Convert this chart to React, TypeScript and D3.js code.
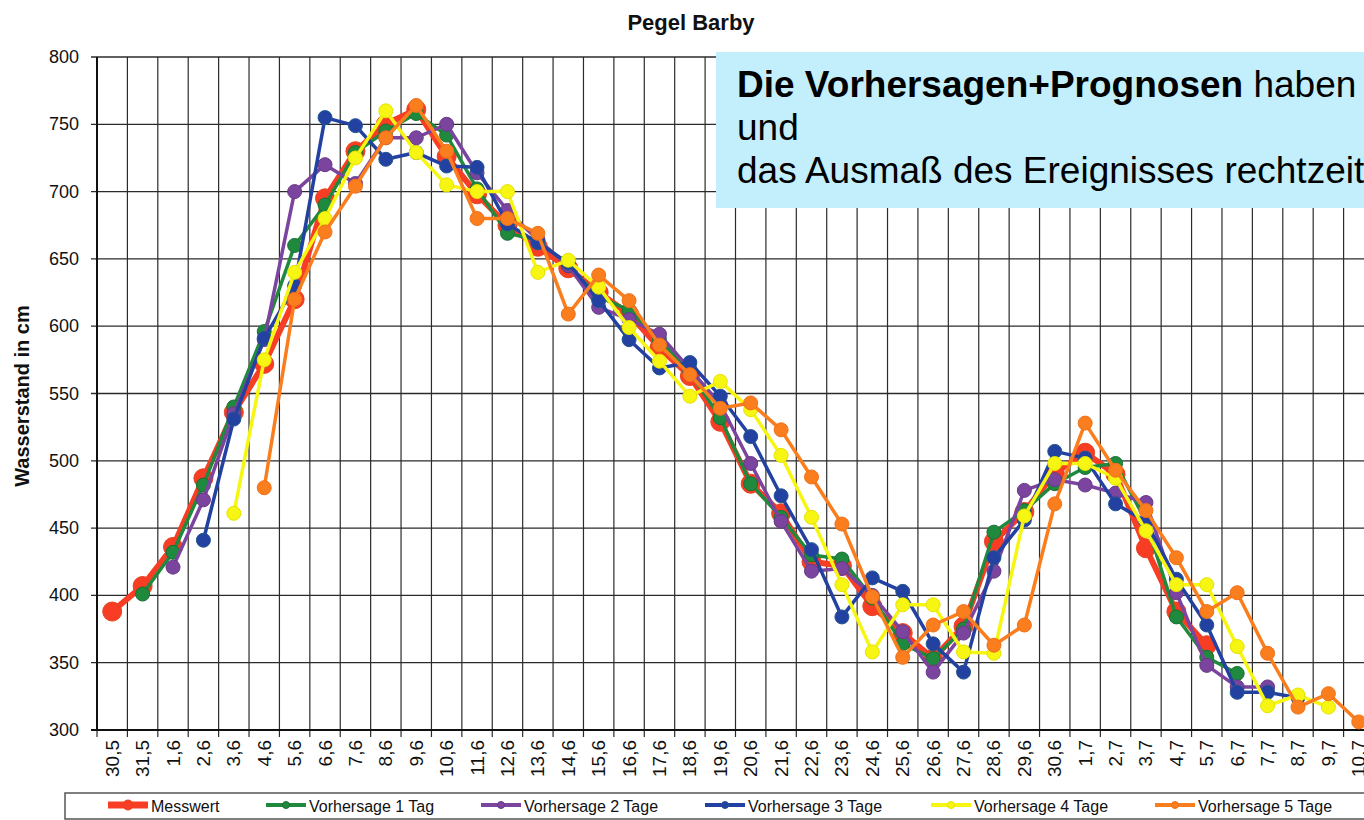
import { useMemo } from 'react';
import * as d3 from 'd3';

const WIDTH = 1364;
const HEIGHT = 820;
const PLOT = { left: 97, top: 57, bottom: 730, right: 1374 };
const FONT = '"Liberation Sans", Arial, Helvetica, sans-serif';

const categories = [
  '30,5', '31,5', '1,6', '2,6', '3,6', '4,6', '5,6', '6,6', '7,6', '8,6',
  '9,6', '10,6', '11,6', '12,6', '13,6', '14,6', '15,6', '16,6', '17,6', '18,6',
  '19,6', '20,6', '21,6', '22,6', '23,6', '24,6', '25,6', '26,6', '27,6', '28,6',
  '29,6', '30,6', '1,7', '2,7', '3,7', '4,7', '5,7', '6,7', '7,7', '8,7',
  '9,7', '10,7',
];

const yTicks = [300, 350, 400, 450, 500, 550, 600, 650, 700, 750, 800];

// 42 values per series, null where the series has no point
const messwert = [
  388, 407, 436, 487, 536, 572, 620, 695, 730, 750,
  761, 726, 698, 675, 659, 643, 625, 609, 584, 563,
  529, 483, 461, 425, 422, 392, 372, 353, 377, 440,
  462, 491, 506, 490, 435, 388, 363, null, null, null,
  null, null,
];
const vorhersage1 = [
  null, 401, 432, 482, 540, 596, 660, 690, 729, 745,
  758, 742, 702, 669, 664, 645, 622, 612, 590, 566,
  532, 483, 458, 430, 427, 398, 364, 353, 375, 447,
  463, 483, 495, 498, 455, 384, 354, 342, null, null,
  null, null,
];
const vorhersage2 = [
  null, null, 421, 471, 535, 590, 700, 720, 706, 740,
  740, 750, 714, 686, 664, 645, 614, 605, 594, 568,
  542, 498, 455, 418, 420, 400, 373, 343, 372, 418,
  478, 486, 482, 476, 469, 402, 348, 332, 332, null,
  null, null,
];
const vorhersage3 = [
  null, null, null, 441, 531, 591, 630, 755, 749, 724,
  729, 719, 718, 676, 662, 647, 619, 590, 569, 573,
  548, 518, 474, 434, 384, 413, 403, 364, 343, 428,
  456, 507, 502, 468, 455, 412, 378, 328, 328, 324,
  null, null,
];
const vorhersage4 = [
  null, null, null, null, 461, 575, 640, 680, 725, 760,
  729, 705, 700, 700, 640, 649, 629, 599, 574, 548,
  559, 538, 504, 458, 408, 358, 393, 393, 358, 357,
  459, 498, 498, 487, 448, 408, 408, 362, 318, 326,
  317, null,
];
const vorhersage5 = [
  null, null, null, null, null, 480, 620, 670, 704, 740,
  764, 730, 680, 680, 669, 609, 638, 619, 586, 564,
  539, 543, 523, 488, 453, 399, 354, 378, 388, 363,
  378, 468, 528, 493, 463, 428, 388, 402, 357, 317,
  327, 306,
];

const seriesNames = [
  'Messwert', 'Vorhersage 1 Tag', 'Vorhersage 2 Tage',
  'Vorhersage 3 Tage', 'Vorhersage 4 Tage', 'Vorhersage 5 Tage',
];
const seriesValues = [messwert, vorhersage1, vorhersage2, vorhersage3, vorhersage4, vorhersage5];
const seriesColors = ['#f73d24', '#1f8a3d', '#7b449f', '#2341a1', '#f6f612', '#fa7e1e'];
const seriesEdges = ['#e8421e', '#1a6e35', '#663a86', '#22568f', '#e6e200', '#f07018'];

const legendX = [108, 266, 481, 705, 931, 1155];

export default function App() {
  const x = useMemo(
    () => d3.scaleBand<string>().domain(categories).range([PLOT.left, PLOT.right]).padding(0),
    []
  );
  const y = useMemo(
    () => d3.scaleLinear().domain([300, 800]).range([PLOT.bottom, PLOT.top]),
    []
  );
  const cx = (i: number) => (x(categories[i]) ?? 0) + x.bandwidth() / 2;

  const line = d3
    .line<number | null>()
    .defined((d) => d != null)
    .x((_, i) => cx(i))
    .y((d) => y(d as number));

  const bounds = categories.map((c) => x(c) ?? 0).concat([PLOT.right]);

  return (
    <svg
      width={WIDTH}
      height={HEIGHT}
      style={{ position: 'absolute', left: 0, top: 0, background: '#fff' }}
      fontFamily={FONT}
    >
      <rect width={WIDTH} height={HEIGHT} fill="#fff" />

      {/* title */}
      <text x={691} y={30} textAnchor="middle" fontSize={22} fontWeight="bold" fill="#111">
        Pegel Barby
      </text>

      {/* grid */}
      {bounds.map((bx, i) => (
        <line key={'v' + i} x1={bx} x2={bx} y1={PLOT.top} y2={PLOT.bottom + 7}
          stroke="#2b2b2b" strokeWidth={1.2} />
      ))}
      {yTicks.map((t) => (
        <g key={'h' + t}>
          <line x1={PLOT.left - 6} x2={PLOT.right} y1={y(t)} y2={y(t)} stroke="#2b2b2b" strokeWidth={1.3} />
          <text x={79} y={y(t)} textAnchor="end" dominantBaseline="central" fontSize={18} fill="#111">
            {t}
          </text>
        </g>
      ))}
      <line x1={PLOT.left} x2={PLOT.left} y1={PLOT.top} y2={PLOT.bottom} stroke="#111" strokeWidth={2} />
      <line x1={PLOT.left - 6} x2={PLOT.right} y1={PLOT.bottom} y2={PLOT.bottom} stroke="#111" strokeWidth={2} />

      {/* x tick labels */}
      {categories.map((c, i) => (
        <text key={c} transform={`translate(${cx(i)},740) rotate(-90)`} textAnchor="end"
          dominantBaseline="central" fontSize={19} fill="#111">
          {c}
        </text>
      ))}

      {/* y axis label */}
      <text transform="translate(22,396) rotate(-90)" textAnchor="middle" dominantBaseline="central"
        fontSize={20} fontWeight="bold" fill="#111">
        Wasserstand in cm
      </text>

      {/* series */}
      {seriesValues.map((vals, s) => (
        <g key={seriesNames[s]}>
          <path d={line(vals) ?? ''} fill="none" stroke={seriesColors[s]}
            strokeWidth={s === 0 ? 6 : 3.5} strokeLinejoin="round" />
          {vals.map((v, i) =>
            v == null ? null : (
              <circle key={i} cx={cx(i)} cy={y(v)} r={s === 0 ? 9.5 : 7}
                fill={seriesColors[s]} stroke={seriesEdges[s]} strokeWidth={1} />
            )
          )}
        </g>
      ))}

      {/* annotation */}
      <rect x={716} y={52} width={WIDTH - 716} height={156} fill="#c2effb" />
      <text x={737} y={97} fontSize={37} fill="#000">
        <tspan fontWeight="bold">Die Vorhersagen+Prognosen</tspan>
        <tspan> haben</tspan>
      </text>
      <text x={737} y={140} fontSize={37} fill="#000">und</text>
      <text x={737} y={183} fontSize={37} fill="#000">das Ausmaß des Ereignisses rechtzeitig</text>

      {/* legend */}
      <rect x={65} y={793} width={WIDTH} height={26} fill="#fff" stroke="#555" strokeWidth={1.5} />
      {seriesNames.map((n, s) => (
        <g key={'l' + n}>
          <line x1={legendX[s]} x2={legendX[s] + 40} y1={805} y2={805} stroke={seriesColors[s]}
            strokeWidth={s === 0 ? 7 : 4} />
          <circle cx={legendX[s] + 20} cy={805} r={s === 0 ? 5 : 3.5} fill={seriesColors[s]}
            stroke={seriesEdges[s]} strokeWidth={1} />
          <text x={legendX[s] + 43} y={806} dominantBaseline="central" fontSize={16} fill="#111">
            {n}
          </text>
        </g>
      ))}
    </svg>
  );
}
